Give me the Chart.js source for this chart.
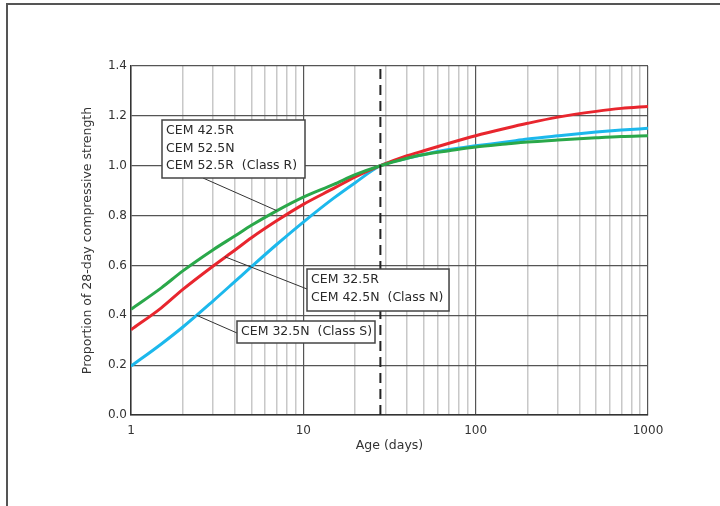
<!DOCTYPE html>
<html>
<head>
<meta charset="utf-8">
<script src="https://cdn.jsdelivr.net/npm/chart.js@4"></script>
<style>
  html, body { margin: 0; padding: 0; background: #fff; }
  #wrap { width: 720px; height: 506px; position: relative; }
</style>
</head>
<body>
<div id="wrap"><canvas id="myChart" width="720" height="506"></canvas></div>
<script>
// ages in days (log axis) and strength ratios
const ages = [1, 1.5, 2, 3, 4, 5, 7, 10, 15, 20, 28, 40, 50, 70, 100, 150, 200, 300, 500, 700, 1000]
const classR = [0.424, 0.51, 0.578, 0.663, 0.718, 0.761, 0.819, 0.874, 0.925, 0.964, 1.0,
    1.03, 1.045, 1.06, 1.075, 1.087, 1.095, 1.103, 1.112, 1.117, 1.12]
const classN = [0.342, 0.43, 0.504, 0.598, 0.661, 0.711, 0.779, 0.845, 0.909, 0.955, 1.0,
    1.04, 1.06, 1.09, 1.12, 1.15, 1.17, 1.195, 1.218, 1.23, 1.238]
const classS = [0.196, 0.285, 0.353, 0.458, 0.535, 0.595, 0.684, 0.774, 0.87, 0.932, 1.0,
    1.03, 1.045, 1.065, 1.08, 1.095, 1.107, 1.12, 1.135, 1.143, 1.15]

const xTicks = [1, 2, 3, 4, 5, 6, 7, 8, 9, 10, 20, 30, 40, 50, 60, 70, 80, 90, 100,
    200, 300, 400, 500, 600, 700, 800, 900, 1000]
const xLabels = [1, 10, 100, 1000]
const yTicks = [0, 0.2, 0.4, 0.6, 0.8, 1.0, 1.2, 1.4]
const refAge = 28

const labelR = ["CEM 42.5R", "CEM 52.5N", "CEM 52.5R  (Class R)"]
const labelN = ["CEM 32.5R", "CEM 42.5N  (Class N)"]
const labelS = ["CEM 32.5N  (Class S)"]

const GREEN = "#2aa84a"
const RED = "#e8262e"
const BLUE = "#1cb8ec"
const FONT = "'DejaVu Sans', sans-serif"

function pts(ys) {
    return ages.map((a, i) => ({ x: a, y: ys[i] }))
}

// callout boxes: box in pixels, leader end in data units
const callouts = [
    { lines: labelR, box: [162, 120, 143, 58], from: [203, 178], to: [7, 0.82] },
    { lines: labelN, box: [307, 269, 142, 42], from: [307, 289], to: [3.5, 0.635] },
    { lines: labelS, box: [237, 321, 138, 22], from: [237, 333], to: [2.4, 0.40] }
]

const framePlugin = {
    id: "frame",
    beforeDraw(chart) {
        const c = chart.ctx
        c.save()
        c.strokeStyle = "#555"
        c.lineWidth = 2
        c.beginPath()
        c.moveTo(7, 506)
        c.lineTo(7, 4)
        c.lineTo(720, 4)
        c.stroke()
        c.restore()
    }
}

const calloutPlugin = {
    id: "callouts",
    afterDatasetsDraw(chart) {
        const c = chart.ctx
        const xs = chart.scales.x, ys = chart.scales.y
        c.save()
        c.font = "12.5px " + FONT
        c.textBaseline = "middle"
        callouts.forEach(co => {
            c.strokeStyle = "#333"
            c.lineWidth = 1
            c.beginPath()
            c.moveTo(co.from[0], co.from[1])
            c.lineTo(xs.getPixelForValue(co.to[0]), ys.getPixelForValue(co.to[1]))
            c.stroke()
            const [bx, by, bw, bh] = co.box
            c.fillStyle = "#fff"
            c.fillRect(bx, by, bw, bh)
            c.strokeStyle = "#444"
            c.lineWidth = 1.5
            c.strokeRect(bx, by, bw, bh)
            c.fillStyle = "#2a2a2a"
            co.lines.forEach((t, i) => {
                c.fillText(t, bx + 4, by + 11 + i * 17.5)
            })
        })
        c.restore()
    }
}

const ctx = document.getElementById("myChart")

new Chart(ctx, {
    type: "line",
    data: {
        datasets: [
            {
                label: "28 days",
                data: [{ x: refAge, y: 0 }, { x: refAge, y: 1.4 }],
                borderColor: "#222",
                borderWidth: 2,
                borderDash: [10, 6],
                pointRadius: 0,
                order: 0
            },
            {
                label: "Class R",
                data: pts(classR),
                borderColor: GREEN,
                borderWidth: 3,
                pointRadius: 0,
                cubicInterpolationMode: "monotone"
            },
            {
                label: "Class N",
                data: pts(classN),
                borderColor: RED,
                borderWidth: 3,
                pointRadius: 0,
                cubicInterpolationMode: "monotone"
            },
            {
                label: "Class S",
                data: pts(classS),
                borderColor: BLUE,
                borderWidth: 3,
                pointRadius: 0,
                cubicInterpolationMode: "monotone"
            }
        ]
    },
    options: {
        responsive: false,
        animation: false,
        layout: { padding: { left: 80, top: 66, right: 72, bottom: 51 } },
        plugins: { legend: { display: false }, tooltip: { enabled: false } },
        scales: {
            x: {
                type: "logarithmic",
                min: 1,
                max: 1000,
                afterBuildTicks: s => { s.ticks = xTicks.map(v => ({ value: v })) },
                afterFit: s => { s.height = 40 },
                border: { color: "#333", width: 1.5 },
                grid: {
                    drawTicks: false,
                    color: c => xLabels.includes(c.tick.value) ? "#555" : "#c8c8c8",
                    lineWidth: c => xLabels.includes(c.tick.value) ? 1.2 : 1.5
                },
                ticks: {
                    autoSkip: false,
                    maxRotation: 0,
                    padding: 9,
                    color: "#333",
                    font: { family: FONT, size: 12 },
                    callback: v => xLabels.includes(v) ? String(v) : ""
                },
                title: {
                    display: true,
                    text: "Age (days)",
                    color: "#333",
                    padding: 2,
                    font: { family: FONT, size: 12.5 }
                }
            },
            y: {
                min: 0,
                max: 1.4,
                afterBuildTicks: s => { s.ticks = yTicks.map(v => ({ value: v })) },
                afterFit: s => { s.width = 51 },
                border: { color: "#333", width: 1.5 },
                grid: { drawTicks: false, color: "#555", lineWidth: 1.2 },
                ticks: {
                    padding: 4,
                    color: "#333",
                    font: { family: FONT, size: 12 },
                    callback: v => v.toFixed(1)
                },
                title: {
                    display: true,
                    text: "Proportion of 28-day compressive strength",
                    color: "#333",
                    padding: 0,
                    font: { family: FONT, size: 12.5 }
                }
            }
        }
    },
    plugins: [framePlugin, calloutPlugin]
})
</script>
</body>
</html>
